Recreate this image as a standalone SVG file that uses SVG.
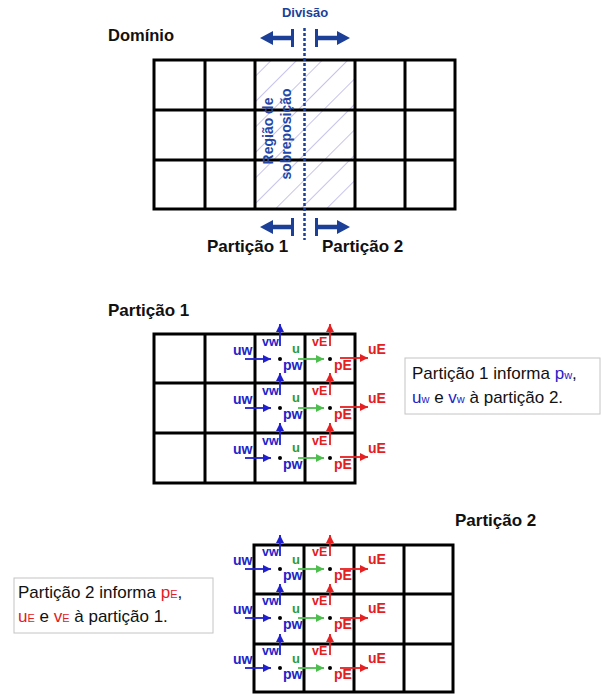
<svg xmlns="http://www.w3.org/2000/svg" width="604" height="697" viewBox="0 0 604 697">
<style>
.grid{fill:none;stroke:#000;stroke-width:3}
.h{font-family:"Liberation Sans",Arial,sans-serif;font-weight:bold;fill:#111}
.t{font-family:"Liberation Sans",Arial,sans-serif;font-size:17px;fill:#111}
.lb{font-family:"Liberation Sans",Arial,sans-serif;font-weight:bold;font-size:14px}
.lu{font-family:"Liberation Sans",Arial,sans-serif;font-weight:bold;font-size:13px}
.lv{font-family:"Liberation Sans",Arial,sans-serif;font-weight:bold;font-size:12.5px}
.b{fill:#2323c8}
.r{fill:#e3201e}
.g{fill:#2f9a38}
.ab{stroke:#1f1fd0;stroke-width:1.8;fill:none;marker-end:url(#mb)}
.ag{stroke:#4cbf4c;stroke-width:1.8;fill:none;marker-end:url(#mg)}
.ar{stroke:#e62020;stroke-width:1.8;fill:none;marker-end:url(#mr)}
.box{fill:#fff;stroke:#c4c4c4;stroke-width:1}
.navy{fill:#1c3f98}
.div{stroke:#1c3f98;stroke-width:2.5;stroke-dasharray:3 2;fill:none}
</style>
<defs>
<marker id="mb" viewBox="0 0 10 10" refX="10" refY="5" markerUnits="userSpaceOnUse" markerWidth="8" markerHeight="8" orient="auto"><path d="M0,0L10,5L0,10z" fill="#1f1fd0"/></marker>
<marker id="mg" viewBox="0 0 10 10" refX="10" refY="5" markerUnits="userSpaceOnUse" markerWidth="8" markerHeight="8" orient="auto"><path d="M0,0L10,5L0,10z" fill="#4cbf4c"/></marker>
<marker id="mr" viewBox="0 0 10 10" refX="10" refY="5" markerUnits="userSpaceOnUse" markerWidth="8" markerHeight="8" orient="auto"><path d="M0,0L10,5L0,10z" fill="#e62020"/></marker>
<pattern id="hatch" width="18" height="18" patternUnits="userSpaceOnUse" patternTransform="rotate(45)"><line x1="0" y1="0" x2="0" y2="18" stroke="#9088d8" stroke-width="1"/></pattern>
</defs>

<!-- Domain -->
<g id="dominio">
<text class="h" x="108" y="41" font-size="16.5">Domínio</text>
<rect x="255" y="60" width="100" height="149" fill="url(#hatch)"/>
<rect class="grid" x="154" y="60" width="301" height="149"/>
<path class="grid" d="M205,60V209M255,60V209M355,60V209M405,60V209M154,110H455M154,160H455"/>
<text class="lb" x="273" y="131" text-anchor="middle" transform="rotate(-90 273 131)" font-size="13" fill="#2646a6">Região de</text>
<text class="lb" x="291" y="134" text-anchor="middle" transform="rotate(-90 291 134)" font-size="13" fill="#2646a6">sobreposição</text>
</g>

<g id="divisao">
<text class="h" x="305" y="17" font-size="13" text-anchor="middle" style="fill:#1c3f98">Divisão</text>
<path class="div" d="M304.5,28V240"/>
<path class="navy" d="M260,38L273,31V35.8H292V40.2H273V45Z"/>
<rect class="navy" x="291" y="29" width="3" height="18"/>
<path class="navy" d="M350,38L337,31V35.8H318V40.2H337V45Z"/>
<rect class="navy" x="315" y="29" width="3" height="18"/>
<path class="navy" d="M260,227L273,220V224.8H292V229.2H273V234Z"/>
<rect class="navy" x="291" y="218" width="3" height="18"/>
<path class="navy" d="M350,227L337,220V224.8H318V229.2H337V234Z"/>
<rect class="navy" x="315" y="218" width="3" height="18"/>
<text class="h" x="207" y="252" font-size="17">Partição 1</text>
<text class="h" x="322" y="252" font-size="17">Partição 2</text>
</g>

<!-- Partition 1 -->
<g id="particao1">
<text class="h" x="108" y="316" font-size="17">Partição 1</text>
<rect class="grid" x="154" y="334" width="201" height="149"/>
<path class="grid" d="M205,334V483M255,334V483M305,334V483M154,383H355M154,433H355"/>
</g>

<g id="p1-labels">
<g transform="translate(0,334)">
<text class="lb b" x="233" y="21">uw</text><text class="lv b" x="262" y="12">vw</text>
<circle cx="280" cy="25" r="2"/><text class="lb b" x="283" y="35.5">pw</text>
<text class="lu g" x="292" y="19">u</text><text class="lv r" x="312" y="12">vE</text>
<circle cx="330" cy="25" r="2"/><text class="lb r" x="334" y="36">pE</text>
<text class="lb r" x="368" y="20">uE</text>
</g>
<g transform="translate(0,383)">
<text class="lb b" x="233" y="21">uw</text><text class="lv b" x="262" y="12">vw</text>
<circle cx="280" cy="25" r="2"/><text class="lb b" x="283" y="35.5">pw</text>
<text class="lu g" x="292" y="19">u</text><text class="lv r" x="312" y="12">vE</text>
<circle cx="330" cy="25" r="2"/><text class="lb r" x="334" y="36">pE</text>
<text class="lb r" x="368" y="20">uE</text>
</g>
<g transform="translate(0,433)">
<text class="lb b" x="233" y="21">uw</text><text class="lv b" x="262" y="12">vw</text>
<circle cx="280" cy="25" r="2"/><text class="lb b" x="283" y="35.5">pw</text>
<text class="lu g" x="292" y="19">u</text><text class="lv r" x="312" y="12">vE</text>
<circle cx="330" cy="25" r="2"/><text class="lb r" x="334" y="36">pE</text>
<text class="lb r" x="368" y="20">uE</text>
</g>
</g>

<g id="nota1">
<rect class="box" x="405" y="358" width="195" height="56"/>
<text class="t" x="412" y="379">Partição 1 informa <tspan class="b">p</tspan><tspan class="b" font-size="11">w</tspan>,</text>
<text class="t" x="412" y="403"><tspan class="b">u</tspan><tspan class="b" font-size="11">w</tspan> e <tspan class="b">v</tspan><tspan class="b" font-size="11">w</tspan> à partição 2.</text>
</g>

<!-- Partition 2 -->
<g id="particao2">
<text class="h" x="455" y="526" font-size="17">Partição 2</text>
<rect class="grid" x="254" y="545" width="199" height="147"/>
<path class="grid" d="M304,545V692M354,545V692M404,545V692M254,594H453M254,644H453"/>
</g>

<g id="p2-labels">
<g transform="translate(0,545)">
<text class="lb b" x="233" y="20">uw</text><text class="lv b" x="262" y="11">vw</text>
<circle cx="280" cy="24" r="2"/><text class="lb b" x="283" y="35">pw</text>
<text class="lu g" x="292" y="18.5">u</text><text class="lv r" x="312" y="11">vE</text>
<circle cx="330" cy="24" r="2"/><text class="lb r" x="334" y="35">pE</text>
<text class="lb r" x="368" y="19">uE</text>
</g>
<g transform="translate(0,594)">
<text class="lb b" x="233" y="20">uw</text><text class="lv b" x="262" y="11">vw</text>
<circle cx="280" cy="24" r="2"/><text class="lb b" x="283" y="35">pw</text>
<text class="lu g" x="292" y="18.5">u</text><text class="lv r" x="312" y="11">vE</text>
<circle cx="330" cy="24" r="2"/><text class="lb r" x="334" y="35">pE</text>
<text class="lb r" x="368" y="19">uE</text>
</g>
<g transform="translate(0,644)">
<text class="lb b" x="233" y="20">uw</text><text class="lv b" x="262" y="11">vw</text>
<circle cx="280" cy="24" r="2"/><text class="lb b" x="283" y="35">pw</text>
<text class="lu g" x="292" y="18.5">u</text><text class="lv r" x="312" y="11">vE</text>
<circle cx="330" cy="24" r="2"/><text class="lb r" x="334" y="35">pE</text>
<text class="lb r" x="368" y="19">uE</text>
</g>
</g>

<g id="nota2">
<rect class="box" x="14" y="578" width="199" height="55"/>
<text class="t" x="18" y="598">Partição 2 informa <tspan class="r">p</tspan><tspan class="r" font-size="11">E</tspan>,</text>
<text class="t" x="18" y="622"><tspan class="r">u</tspan><tspan class="r" font-size="11">E</tspan> e <tspan class="r">v</tspan><tspan class="r" font-size="11">E</tspan> à partição 1.</text>
</g>

<g id="connectors">
<g transform="translate(0,334)"><path class="ab" d="M245,25H271"/><path class="ab" d="M280,12V-10"/><path class="ag" d="M298,25H324"/><path class="ar" d="M330,12V-10"/><path class="ar" d="M340,24H368"/></g>
<g transform="translate(0,383)"><path class="ab" d="M245,25H271"/><path class="ab" d="M280,12V-10"/><path class="ag" d="M298,25H324"/><path class="ar" d="M330,12V-10"/><path class="ar" d="M340,24H368"/></g>
<g transform="translate(0,433)"><path class="ab" d="M245,25H271"/><path class="ab" d="M280,12V-10"/><path class="ag" d="M298,25H324"/><path class="ar" d="M330,12V-10"/><path class="ar" d="M340,24H368"/></g>
<g transform="translate(0,545)"><path class="ab" d="M245,24H271"/><path class="ab" d="M280,11V-10"/><path class="ag" d="M298,24H324"/><path class="ar" d="M330,11V-10"/><path class="ar" d="M340,24H368"/></g>
<g transform="translate(0,594)"><path class="ab" d="M245,24H271"/><path class="ab" d="M280,11V-10"/><path class="ag" d="M298,24H324"/><path class="ar" d="M330,11V-10"/><path class="ar" d="M340,24H368"/></g>
<g transform="translate(0,644)"><path class="ab" d="M245,24H271"/><path class="ab" d="M280,11V-10"/><path class="ag" d="M298,24H324"/><path class="ar" d="M330,11V-10"/><path class="ar" d="M340,24H368"/></g>
</g>
</svg>
